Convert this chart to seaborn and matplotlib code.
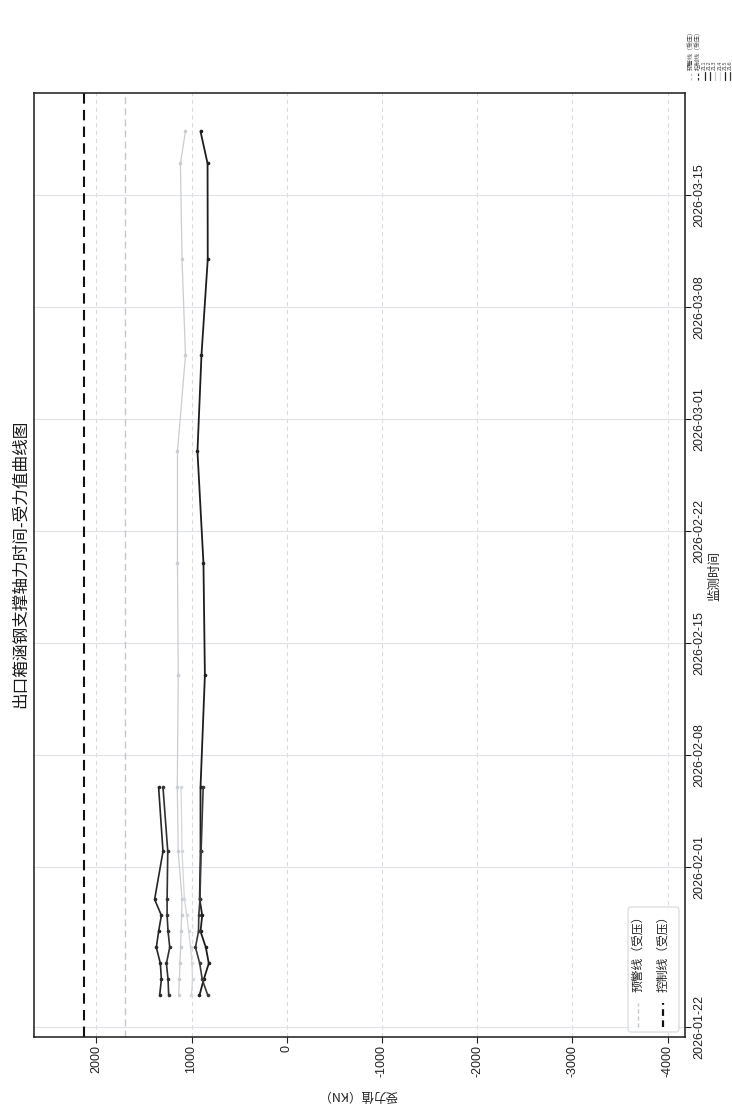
import numpy as np
import pandas as pd
import matplotlib
matplotlib.use("Agg")
import matplotlib.pyplot as plt
import matplotlib.dates as mdates
from matplotlib.lines import Line2D
from matplotlib.patches import FancyBboxPatch
import seaborn as sns

# ---- data -------------------------------------------------------------
title = "出口箱涵钢支撑轴力时间-受力值曲线图"
x_label = "受力值（KN）"
y_label = "监测时间"

dates_short = ["2026-01-24", "2026-01-25", "2026-01-26", "2026-01-27", "2026-01-28",
               "2026-01-29", "2026-01-30", "2026-02-02", "2026-02-06"]
dates_long = dates_short + ["2026-02-13", "2026-02-20", "2026-02-27", "2026-03-05",
                            "2026-03-11", "2026-03-17", "2026-03-19"]

zl1 = [1335, 1317, 1328, 1370, 1346, 1317, 1388, 1300, 1346]
zl2 = [1240, 1247, 1264, 1229, 1247, 1257, 1257, 1250, 1300]
zl3 = [1135, 1128, 1122, 1115, 1110, 1105, 1100, 1140, 1150,
       1140, 1148, 1148, 1064, 1100, 1117, 1064]
zl4 = [1001, 990, 995, 1010, 1030, 1050, 1075, 1100, 1110]
zl5 = [917, 872, 819, 850, 906, 888, 915, 906, 906,
       860, 875, 938, 896, 830, 832, 906]
zl6 = [829, 888, 914, 959, 927, 924, 912, 900, 878]

warning_line = 1700   # 预警线（受压）
control_line = 2125   # 控制线（受压）

value_ticks = [2000, 1000, 0, -1000, -2000, -3000, -4000]
date_ticks = ["2026-01-22", "2026-02-01", "2026-02-08", "2026-02-15",
              "2026-02-22", "2026-03-01", "2026-03-08", "2026-03-15"]

series_names = ["ZL1", "ZL2", "ZL3", "ZL4", "ZL5", "ZL6"]
series_values = [zl1, zl2, zl3, zl4, zl5, zl6]
series_dates = [dates_short, dates_short, dates_long, dates_short, dates_long, dates_short]
series_colors = ["#262626", "#303030", "#c9cdd3", "#d3d7dc", "#1e1e1e", "#3a3a3a"]
series_widths = [1.2, 1.2, 0.9, 0.9, 1.3, 1.2]

# ---- style ------------------------------------------------------------
sns.set_style("white")
plt.rcParams["font.family"] = ["Liberation Sans", "Noto Sans CJK SC", "DejaVu Sans"]
plt.rcParams["axes.unicode_minus"] = False

W, H = 732, 1115
fig = plt.figure(figsize=(W / 100, H / 100), dpi=100)
fig.patch.set_facecolor("white")

# axes box in pixels: left 34, right 685, top 93, bottom 1037
L, R, T, B = 34, 685, 93, 1037
ax = fig.add_axes([L / W, 1 - B / H, (R - L) / W, (B - T) / H])

frames = []
for name, vals, ds in zip(series_names, series_values, series_dates):
    frames.append(pd.DataFrame({"series": name,
                                "value": vals,
                                "date": mdates.date2num(pd.to_datetime(ds))}))
df = pd.concat(frames, ignore_index=True)

for name, col, lw in zip(series_names, series_colors, series_widths):
    sub = df[df["series"] == name]
    sns.lineplot(data=sub, x="value", y="date", orient="y", sort=False,
                 estimator=None, color=col, lw=lw, marker="o", markersize=2.6,
                 markeredgewidth=0, ax=ax, legend=False)

# reference lines
ax.axvline(warning_line, color="#c3c7cd", ls=(0, (5, 3)), lw=1.0, zorder=1)
ax.axvline(control_line, color="#111111", ls=(0, (5, 3)), lw=1.5, zorder=1)

# axes limits (value axis runs right-to-left, time runs upward)
d0 = mdates.date2num(pd.Timestamp("2026-01-22"))
ax.set_xlim(2655, -4183)
ax.set_ylim(d0 - 0.6, d0 + 58.4)

ax.set_xticks(value_ticks)
ax.set_xticklabels([str(v) for v in value_ticks])
ax.set_yticks(mdates.date2num(pd.to_datetime(date_ticks)))
ax.yaxis.set_major_formatter(mdates.DateFormatter("%Y-%m-%d"))
ax.yaxis.tick_right()

ax.set_xlabel("")
ax.set_ylabel("")

ax.xaxis.grid(True, color="#d8dce2", ls=(0, (4, 3)), lw=0.8)
ax.yaxis.grid(True, color="#dfe3e8", ls="-", lw=0.8)
ax.set_axisbelow(True)

for s in ax.spines.values():
    s.set_color("#1a1a1a")
    s.set_linewidth(1.1)

ax.tick_params(axis="x", bottom=True, top=False, direction="out", length=4,
               width=0.8, color="#222222", labelsize=9, labelcolor="#222222", pad=2)
ax.tick_params(axis="y", left=False, right=True, labelleft=False, labelright=True,
               direction="out", length=4, width=0.8, color="#222222",
               labelsize=9, labelcolor="#222222", pad=2)

for lbl in ax.get_xticklabels():
    lbl.set_rotation(90)
    lbl.set_ha("center")
    lbl.set_va("top")
for lbl in ax.get_yticklabels():
    lbl.set_rotation(90)
    lbl.set_ha("left")
    lbl.set_va("center")

# titles and axis captions
fig.text(20 / W, 1 - 564 / H, title, rotation=90, ha="center", va="center",
         fontsize=12, color="#1a1a1a", family=["Noto Sans CJK SC"])
fig.text(358 / W, 1 - 1095 / H, x_label, rotation=180, ha="center", va="center",
         fontsize=9, color="#222222", family=["Noto Sans CJK SC"])
fig.text(715 / W, 1 - 576 / H, y_label, rotation=90, ha="center", va="center",
         fontsize=9, color="#222222", family=["Noto Sans CJK SC"])

# legend for reference lines inside the axes (lower right)
def ax_xy(px, py):
    return (px - L) / (R - L), (B - py) / (B - T)

bx0, by0 = ax_xy(628, 1032)
bx1, by1 = ax_xy(679, 907)
ax.add_patch(FancyBboxPatch((bx0, by0), bx1 - bx0, by1 - by0,
                            boxstyle="round,pad=0,rounding_size=0.004",
                            transform=ax.transAxes, fc="white", ec="#cfd2d6",
                            lw=0.8, alpha=0.9, zorder=5))
leg_items = [("预警线（受压）", "#c3c7cd", 1.0, 638),
             ("控制线（受压）", "#111111", 1.6, 663)]
for text, col, lw, px in leg_items:
    hx, hy0 = ax_xy(px, 1027)
    _, hy1 = ax_xy(px, 1003)
    ax.add_line(Line2D([hx, hx], [hy0, hy1], transform=ax.transAxes, color=col,
                       lw=lw, ls=(0, (3, 2)), zorder=6))
    _, ty = ax_xy(px, 992)
    ax.text(hx, ty, text, transform=ax.transAxes, rotation=90, ha="center",
            va="bottom", fontsize=8.5, color="#222222", zorder=6,
            family=["Noto Sans CJK SC"])

# full series key outside the axes, top right
key_items = [("预警线（受压）", "#c3c7cd", (0, (2, 1.5)), 690.5, 4.3, ["Noto Sans CJK SC"]),
             ("控制线（受压）", "#333333", (0, (2, 1.5)), 698.0, 4.3, ["Noto Sans CJK SC"])]
for i, (n, c) in enumerate(zip(series_names, series_colors)):
    key_items.append((n, c, "-", 704.5 + i * 5.1, 3.7, ["DejaVu Sans"]))
for text, col, ls, px, fs, fam in key_items:
    fx = px / W
    fig.add_artist(Line2D([fx, fx], [1 - 80 / H, 1 - 72 / H], transform=fig.transFigure,
                          color=col, lw=0.9, ls=ls))
    fig.text(fx, 1 - 70 / H, text, rotation=90, ha="center", va="bottom",
             fontsize=fs, color="#4a4a4a", family=fam)

fig.savefig("out.png", dpi=100, facecolor="white")
